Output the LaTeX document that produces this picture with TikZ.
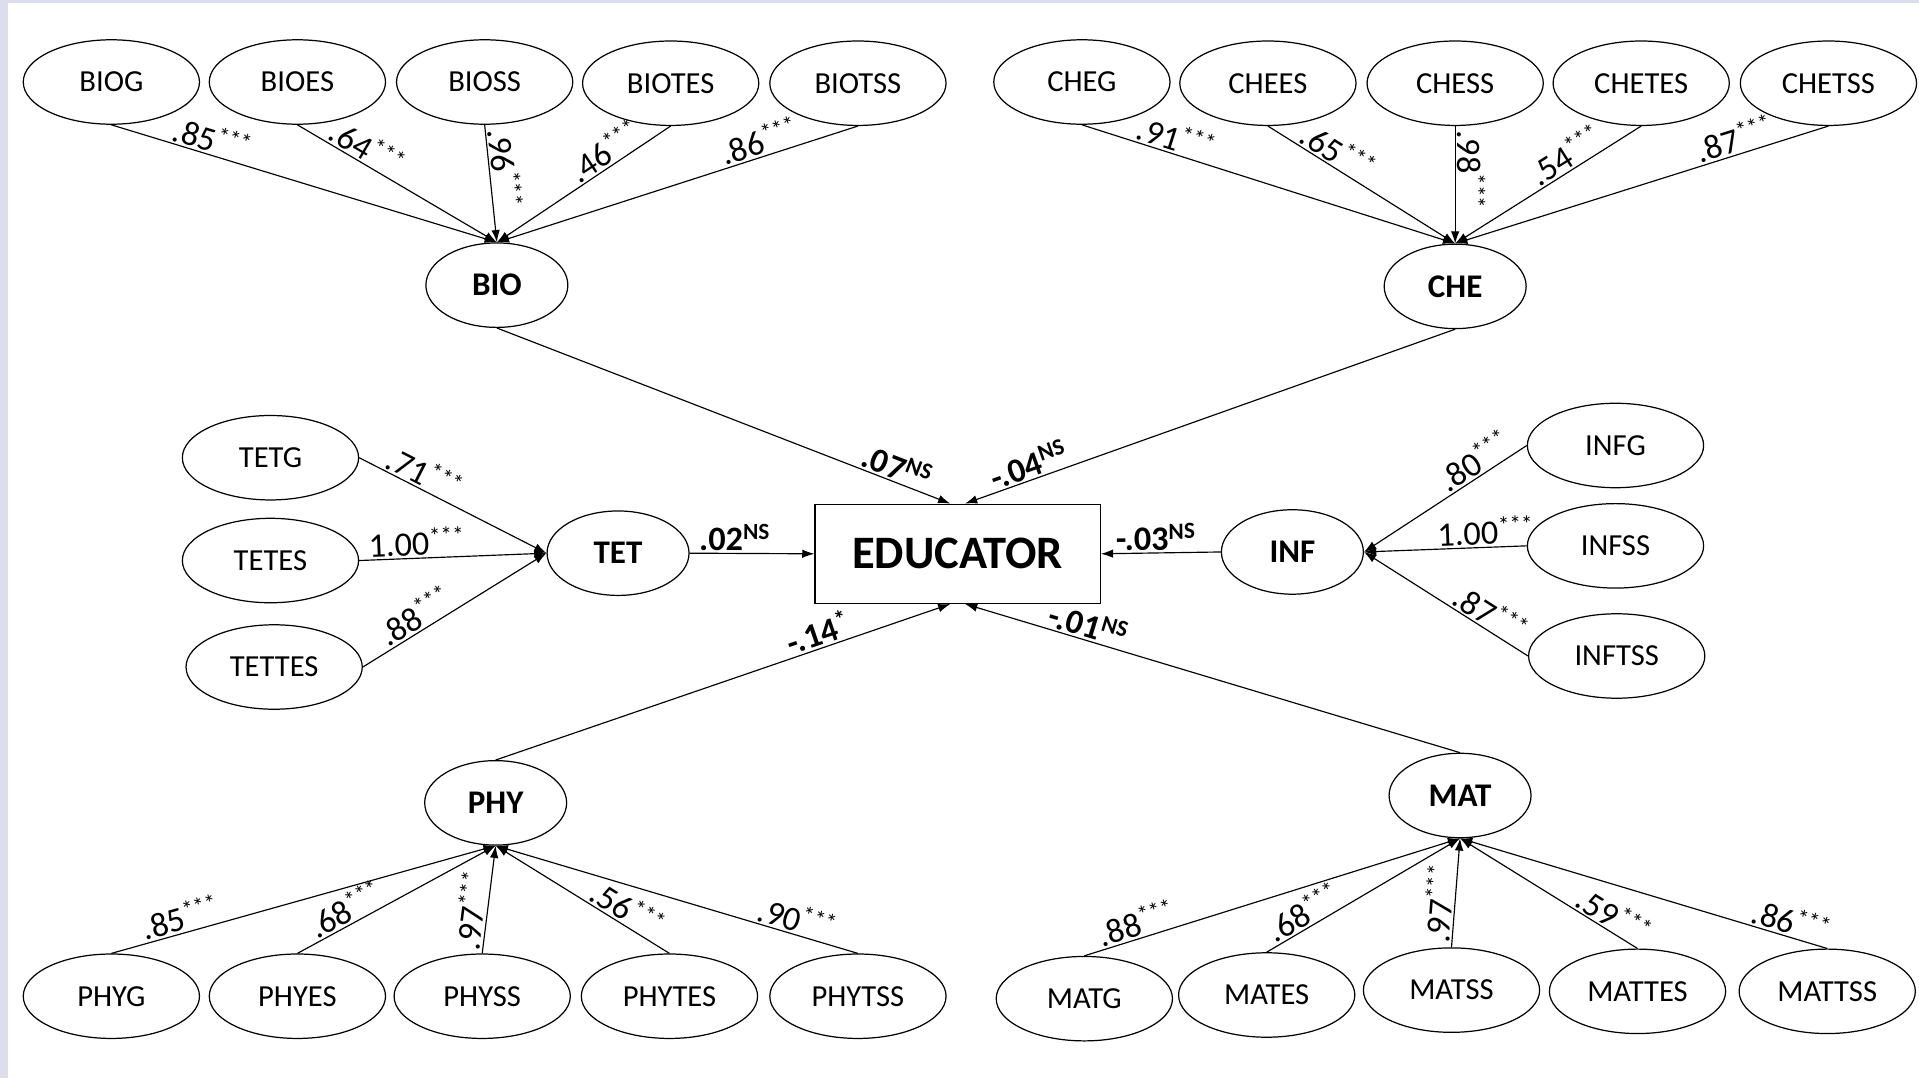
\documentclass[tikz,border=0pt]{standalone}
\usepackage{fontspec}
\setmainfont{Carlito}
\usetikzlibrary{shapes.geometric,arrows.meta}
\definecolor{framebg}{RGB}{220,222,236}
% significance marks set small and raised
\newcommand\sig[1]{\textsuperscript{\fontsize{19}{19}\selectfont #1}}
\begin{document}
\begin{tikzpicture}[x=1pt,y=-1pt,
  ind/.style={ellipse, draw, line width=1pt, minimum width=144pt, minimum height=69pt,
    inner sep=0pt, font=\fontsize{25}{30}\selectfont},
  lat/.style={ellipse, draw, line width=1pt, minimum width=116pt, minimum height=69pt,
    inner sep=0pt, font=\fontsize{27}{32}\selectfont\bfseries},
  outbox/.style={rectangle, draw, line width=1pt, minimum width=233pt, minimum height=81pt,
    inner sep=0pt, font=\fontsize{38}{45}\selectfont\bfseries},
  arr/.style={line width=0.95pt, -{Latex[length=10pt,width=7pt]}},
  lab/.style={sloped, above, inner sep=1.5pt, font=\fontsize{28}{32}\selectfont},
  blab/.style={sloped, above, inner sep=1.5pt, font=\fontsize{28}{32}\selectfont\bfseries}]

% canvas and frame
\useasboundingbox (0,0) rectangle (1568,881);
\fill[white] (0,0) rectangle (1568,881);
\fill[framebg] (0,0) rectangle (6.5,881);
\fill[framebg] (0,0) rectangle (1568,2.5);

% central outcome
\node[outbox] (EDU) at (782.5,452.5) {EDUCATOR};

% latent factors
\node[lat] (BIO) at (406,233) {BIO};
\node[lat] (CHE) at (1189,234) {CHE};
\node[lat] (TET) at (505,452) {TET};
\node[lat] (INF) at (1056,451) {INF};
\node[lat] (PHY) at (405,656) {PHY};
\node[lat] (MAT) at (1193,650) {MAT};

% biology indicators
\node[ind] (BIOG)   at (91,67)  {BIOG};
\node[ind] (BIOES)  at (243,67) {BIOES};
\node[ind] (BIOSS)  at (396,67) {BIOSS};
\node[ind] (BIOTES) at (548,68) {BIOTES};
\node[ind] (BIOTSS) at (701,68) {BIOTSS};

% chemistry indicators
\node[ind] (CHEG)   at (884,67)  {CHEG};
\node[ind] (CHEES)  at (1036,68) {CHEES};
\node[ind] (CHESS)  at (1189,68) {CHESS};
\node[ind] (CHETES) at (1341,68) {CHETES};
\node[ind] (CHETSS) at (1494,68) {CHETSS};

% TET indicators
\node[ind] (TETG)   at (221,374) {TETG};
\node[ind] (TETES)  at (221,458) {TETES};
\node[ind] (TETTES) at (224,545) {TETTES};

% informatics indicators
\node[ind] (INFG)   at (1320,364) {INFG};
\node[ind] (INFSS)  at (1320,446) {INFSS};
\node[ind] (INFTSS) at (1321,536) {INFTSS};

% physics indicators
\node[ind] (PHYG)   at (91,814)  {PHYG};
\node[ind] (PHYES)  at (243,814) {PHYES};
\node[ind] (PHYSS)  at (394,814) {PHYSS};
\node[ind] (PHYTES) at (547,814) {PHYTES};
\node[ind] (PHYTSS) at (701,814) {PHYTSS};

% mathematics indicators
\node[ind] (MATG)   at (886,816)  {MATG};
\node[ind] (MATES)  at (1035,813) {MATES};
\node[ind] (MATSS)  at (1186,809) {MATSS};
\node[ind] (MATTES) at (1338,810) {MATTES};
\node[ind] (MATTSS) at (1493,810) {MATTSS};

% loadings: biology
\draw[arr] (BIOG.south)   -- node[lab,pos=0.25] {.85\sig{***}} (BIO.north);
\draw[arr] (BIOES.south)  -- node[lab,pos=0.31] {.64\sig{***}} (BIO.north);
\draw[arr] (BIOSS.south)  -- node[lab,pos=0.38] {.96\sig{***}} (BIO.north);
\draw[arr] (BIOTES.south) -- node[lab,pos=0.33] {.46\sig{***}} (BIO.north);
\draw[arr] (BIOTSS.south) -- node[lab,pos=0.26] {.86\sig{***}} (BIO.north);

% loadings: chemistry
\draw[arr] (CHEG.south)   -- node[lab,pos=0.24] {.91\sig{***}} (CHE.north);
\draw[arr] (CHEES.south)  -- node[lab,pos=0.33] {.65\sig{***}} (CHE.north);
\draw[arr] (CHESS.south)  -- node[lab,pos=0.37] {.98\sig{***}} (CHE.north);
\draw[arr] (CHETES.south) -- node[lab,pos=0.36] {.54\sig{***}} (CHE.north);
\draw[arr] (CHETSS.south) -- node[lab,pos=0.24] {.87\sig{***}} (CHE.north);

% loadings: TET
\draw[arr] (TETG.east)   -- node[lab,pos=0.31] {.71\sig{***}} (TET.west);
\draw[arr] (TETES.east)  -- node[lab,pos=0.31] {1.00\sig{***}} (TET.west);
\draw[arr] (TETTES.east) -- node[lab,pos=0.33] {.88\sig{***}} (TET.west);

% loadings: informatics
\draw[arr] (INFG.west)   -- node[lab,pos=0.27] {.80\sig{***}} (INF.east);
\draw[arr] (INFSS.west)  -- node[lab,pos=0.25] {1.00\sig{***}} (INF.east);
\draw[arr] (INFTSS.west) -- node[lab,pos=0.28] {.87\sig{***}} (INF.east);

% loadings: physics
\draw[arr] (PHYG.north)   -- node[lab,pos=0.19] {.85\sig{***}} (PHY.south);
\draw[arr] (PHYES.north)  -- node[lab,pos=0.28] {.68\sig{***}} (PHY.south);
\draw[arr] (PHYSS.north)  -- node[lab,pos=0.38] {.97\sig{***}} (PHY.south);
\draw[arr] (PHYTES.north) -- node[lab,pos=0.29] {.56\sig{***}} (PHY.south);
\draw[arr] (PHYTSS.north) -- node[lab,pos=0.18] {.90\sig{***}} (PHY.south);

% loadings: mathematics
\draw[arr] (MATG.north)   -- node[lab,pos=0.15] {.88\sig{***}} (MAT.south);
\draw[arr] (MATES.north)  -- node[lab,pos=0.23] {.68\sig{***}} (MAT.south);
\draw[arr] (MATSS.north)  -- node[lab,pos=0.39] {.97\sig{***}} (MAT.south);
\draw[arr] (MATTES.north) -- node[lab,pos=0.18] {.59\sig{***}} (MAT.south);
\draw[arr] (MATTSS.north) -- node[lab,pos=0.11] {.86\sig{***}} (MAT.south);

% structural paths to the outcome
\draw[arr] (BIO.south) -- node[blab,pos=0.87] {.07\sig{NS}} ([xshift=-6pt]EDU.north);
\draw[arr] (CHE.south) -- node[blab,pos=0.86] {-.04\sig{NS}} ([xshift=6pt]EDU.north);
\draw[arr] (TET.east)  -- node[blab,pos=0.36] {.02\sig{NS}} (EDU.west);
\draw[arr] (INF.west)  -- node[blab,pos=0.54] {-.03\sig{NS}} (EDU.east);
\draw[arr] (PHY.north) -- node[blab,pos=0.72] {-.14\sig{*}} ([xshift=-6pt]EDU.south);
\draw[arr] (MAT.north) -- node[blab,pos=0.76] {-.01\sig{NS}} ([xshift=6pt]EDU.south);
\end{tikzpicture}
\end{document}
